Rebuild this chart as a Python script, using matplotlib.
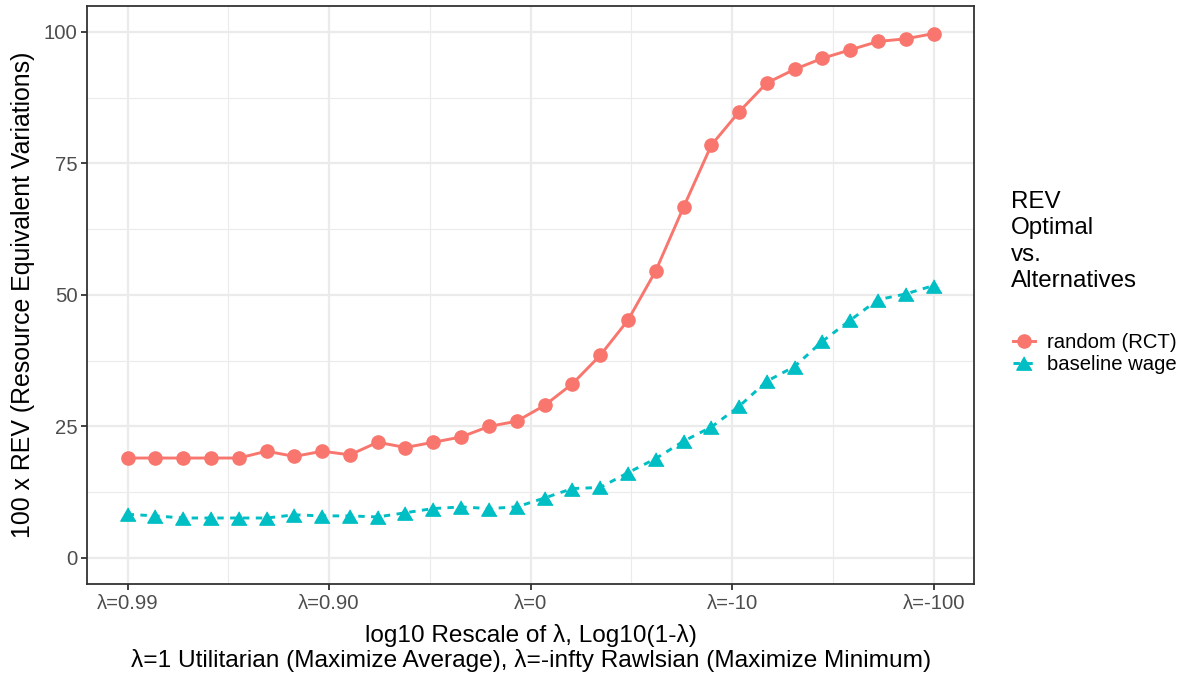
import numpy as np
import matplotlib
matplotlib.use('Agg')
import matplotlib.pyplot as plt
from matplotlib.lines import Line2D

plt.rcParams['font.family'] = ['Liberation Sans', 'DejaVu Sans']

# x positions: log10(1 - lambda), evenly spaced grid
x_vals = [-2.000, -1.862, -1.724, -1.586, -1.448, -1.310, -1.172, -1.034, -0.897, -0.759,
          -0.621, -0.483, -0.345, -0.207, -0.069, 0.069, 0.207, 0.345, 0.483, 0.621,
          0.759, 0.897, 1.034, 1.172, 1.310, 1.448, 1.586, 1.724, 1.862, 2.000]

# 100 x REV values
rev_random = [19.0, 19.0, 19.0, 19.0, 19.0, 20.3, 19.3, 20.3, 19.6, 22.0,
              21.0, 22.0, 23.0, 25.0, 26.0, 29.0, 33.1, 38.5, 45.2, 54.6,
              66.7, 78.5, 84.8, 90.3, 92.9, 95.0, 96.6, 98.2, 98.7, 99.7]
rev_baseline = [8.3, 8.0, 7.6, 7.6, 7.6, 7.6, 8.2, 8.0, 8.0, 7.8,
                8.6, 9.4, 9.7, 9.4, 9.7, 11.4, 13.2, 13.4, 16.2, 18.9,
                22.2, 24.9, 28.8, 33.6, 36.4, 41.2, 45.2, 49.1, 50.2, 51.8]

x_ticks = [-2, -1, 0, 1, 2]
x_ticklabels = ['λ=0.99', 'λ=0.90', 'λ=0', 'λ=-10', 'λ=-100']
y_ticks = [0, 25, 50, 75, 100]

series_names = ['random (RCT)', 'baseline wage']
red = '#F8766D'
teal = '#00BFC4'

fig = plt.figure(figsize=(11.86, 6.76), dpi=100)
ax = fig.add_axes([0.0736, 0.1357, 0.7476, 0.8559])

# ggplot-ish triangle
tri = [(0, 0.87), (-1, -0.87), (1, -0.87)]

ax.plot(x_vals, rev_random, color=red, lw=2.1, marker='o', ms=9.5, zorder=3)
ax.plot(x_vals, rev_baseline, color=teal, lw=2.1, linestyle=(0, (2.2, 2.2)),
        marker=tri, ms=11, zorder=3)

ax.set_xlim(-2.2, 2.2)
ax.set_ylim(-5, 105)
ax.set_xticks(x_ticks)
ax.set_xticklabels(x_ticklabels)
ax.set_yticks(y_ticks)
ax.set_xticks([-1.5, -0.5, 0.5, 1.5], minor=True)
ax.set_yticks([12.5, 37.5, 62.5, 87.5], minor=True)

ax.grid(which='major', color='#EBEBEB', lw=1.6, zorder=0)
ax.grid(which='minor', color='#EBEBEB', lw=0.8, zorder=0)
ax.set_axisbelow(True)
for s in ax.spines.values():
    s.set_color('#333333')
    s.set_linewidth(1.3)
ax.tick_params(which='major', length=4, width=1.3, color='#333333',
               labelsize=14.6, labelcolor='#4D4D4D', pad=3)
ax.tick_params(which='minor', length=0)

ax.set_xlabel('log10 Rescale of λ, Log10(1-λ)\n'
              'λ=1 Utilitarian (Maximize Average), λ=-infty Rawlsian (Maximize Minimum)',
              fontsize=17.6, linespacing=1.12, labelpad=8)
ax.set_ylabel('100 x REV (Resource Equivalent Variations)', fontsize=17.9, labelpad=6)

fig.text(1011 / 1186, 1 - 191 / 676, 'REV\nOptimal\nvs.\nAlternatives',
         fontsize=17.4, va='top', ha='left', linespacing=1.26)

handles = [Line2D([], [], color=red, lw=2.1, marker='o', ms=9.5),
           Line2D([], [], color=teal, lw=2.1, linestyle=(0, (2.2, 2.2)), marker=tri, ms=11)]
fig.legend(handles, series_names, loc='center left',
           bbox_to_anchor=(1013 / 1186, 1 - 353.5 / 676), frameon=False,
           fontsize=14.6, borderpad=0, borderaxespad=0, handlelength=1.1,
           handletextpad=0.6, labelspacing=0.15)

fig.savefig('out.png', dpi=100)
